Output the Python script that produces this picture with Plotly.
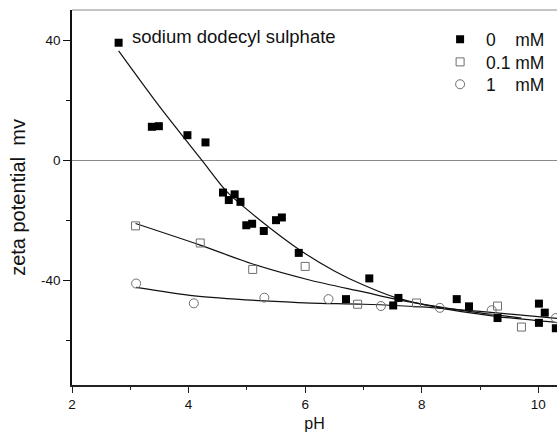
import plotly.graph_objects as go

# ---- data ----
ph_0 = [2.8, 3.37, 3.49, 3.98, 4.29, 4.59, 4.69, 4.79, 4.89, 4.99, 5.09, 5.29, 5.50, 5.60,
        5.89, 6.70, 7.10, 7.51, 7.60, 8.60, 8.81, 9.30, 10.01, 10.11, 10.01, 10.30]
z_0 = [39.2, 11.2, 11.4, 8.4, 6.0, -10.7, -13.2, -11.3, -13.8, -21.6, -21.1, -23.5, -19.9, -19.0,
       -30.8, -46.2, -39.3, -48.3, -45.8, -46.2, -48.6, -52.5, -47.7, -50.7, -54.1, -55.9]

ph_01 = [3.09, 4.20, 5.10, 6.00, 6.90, 7.91, 9.30, 9.71]
z_01 = [-21.8, -27.5, -36.3, -35.3, -47.9, -47.5, -48.5, -55.5]

ph_1 = [3.10, 4.09, 5.30, 6.40, 7.30, 8.31, 9.20, 10.30]
z_1 = [-41.0, -47.6, -45.7, -46.2, -48.5, -49.1, -49.9, -52.5]

# fitted curves
fit0_ph = [2.8, 3.5, 4.23, 4.66, 5.2, 5.92, 6.5, 7.0, 7.57, 8.5, 9.3, 10.32]
fit0_z = [36.5, 18.0, 0.0, -10.5, -19.5, -30.0, -36.8, -41.5, -45.8, -49.8, -52.0, -54.0]

fit01_ph = [3.09, 4.2, 5.1, 6.09, 7.0, 7.57, 8.3, 9.0, 9.71]
fit01_z = [-21.0, -28.2, -34.5, -39.9, -43.8, -46.3, -48.8, -50.8, -52.5]

fit1_ph = [3.1, 4.1, 5.3, 6.1, 7.0, 8.0, 9.0, 10.32]
fit1_z = [-42.3, -45.1, -46.8, -47.5, -47.9, -48.8, -50.3, -52.6]

legend_names = ["0\u00a0\u00a0\u00a0\u00a0mM", "0.1\u00a0mM", "1\u00a0\u00a0\u00a0\u00a0mM"]
x_ticks = [2, 4, 6, 8, 10]
y_ticks = [-40, 0, 40]

FONT = "Liberation Sans, Arial, sans-serif"
GRAY = "#6e6e6e"

fig = go.Figure()

line_style = dict(color="#111111", width=1.2, shape="spline", smoothing=0.8)
for fx, fy in [(fit0_ph, fit0_z), (fit01_ph, fit01_z), (fit1_ph, fit1_z)]:
    fig.add_trace(go.Scatter(x=fx, y=fy, mode="lines", line=line_style,
                             showlegend=False, hoverinfo="skip"))

fig.add_trace(go.Scatter(x=ph_0, y=z_0, mode="markers", name=legend_names[0], legend="legend",
                         marker=dict(symbol="square", size=8, color="black",
                                     line=dict(width=0))))
fig.add_trace(go.Scatter(x=ph_01, y=z_01, mode="markers", name=legend_names[1], legend="legend2",
                         marker=dict(symbol="square-open", size=8, color=GRAY,
                                     line=dict(width=1, color=GRAY))))
fig.add_trace(go.Scatter(x=ph_1, y=z_1, mode="markers", name=legend_names[2], legend="legend3",
                         marker=dict(symbol="circle-open", size=9, color=GRAY,
                                     line=dict(width=1, color=GRAY))))

fig.add_annotation(x=3.0, y=41.3, xref="x", yref="y", text="sodium dodecyl sulphate",
                   showarrow=False, xanchor="left", yanchor="middle",
                   font=dict(family=FONT, size=18.5, color="#111111"))

# top frame line (light gray)
fig.add_shape(type="line", xref="paper", yref="paper", x0=0, x1=1, y0=1, y1=1,
              line=dict(color="#c4c4c4", width=2))

leg_common = dict(x=0.7466, xanchor="left", yanchor="top",
                  bgcolor="rgba(0,0,0,0)", borderwidth=0, itemwidth=42,
                  font=dict(family=FONT, size=17.5, color="#111111"))

fig.update_layout(
    width=557, height=441,
    margin=dict(l=72, r=0, t=10, b=56),
    plot_bgcolor="white", paper_bgcolor="white",
    font=dict(family=FONT, size=13, color="#111111"),
    showlegend=True,
    legend=dict(y=0.9696, **leg_common),
    legend2=dict(y=0.9093, **leg_common),
    legend3=dict(y=0.8497, **leg_common),
    xaxis=dict(range=[2, 10.32], tickvals=x_ticks, ticktext=[str(v) for v in x_ticks],
               showgrid=False, zeroline=False, showline=True, linecolor="#222222",
               linewidth=1.5, ticks="outside", ticklen=6, tickwidth=1.3,
               tickcolor="#222222",
               minor=dict(dtick=1, ticks="outside", ticklen=3, tickwidth=1.3,
                          tickcolor="#222222", showgrid=False),
               tickfont=dict(size=13.5),
               title=dict(text="pH", font=dict(size=16), standoff=7)),
    yaxis=dict(range=[-74.8, 50.1], tickvals=y_ticks, ticktext=[str(v) for v in y_ticks],
               showgrid=False, zeroline=True, zerolinecolor="#8a8a8a", zerolinewidth=1,
               showline=True, linecolor="#111111", linewidth=1.5,
               ticks="outside", ticklen=7, tickwidth=1.3, tickcolor="#111111",
               minor=dict(dtick=20, ticks="outside", ticklen=4, tickwidth=1.3,
                          tickcolor="#111111", showgrid=False),
               tickfont=dict(size=13.5),
               title=dict(text="zeta potential\u00a0\u00a0mv", font=dict(size=20), standoff=10)),
)

fig.write_html("out.html")
